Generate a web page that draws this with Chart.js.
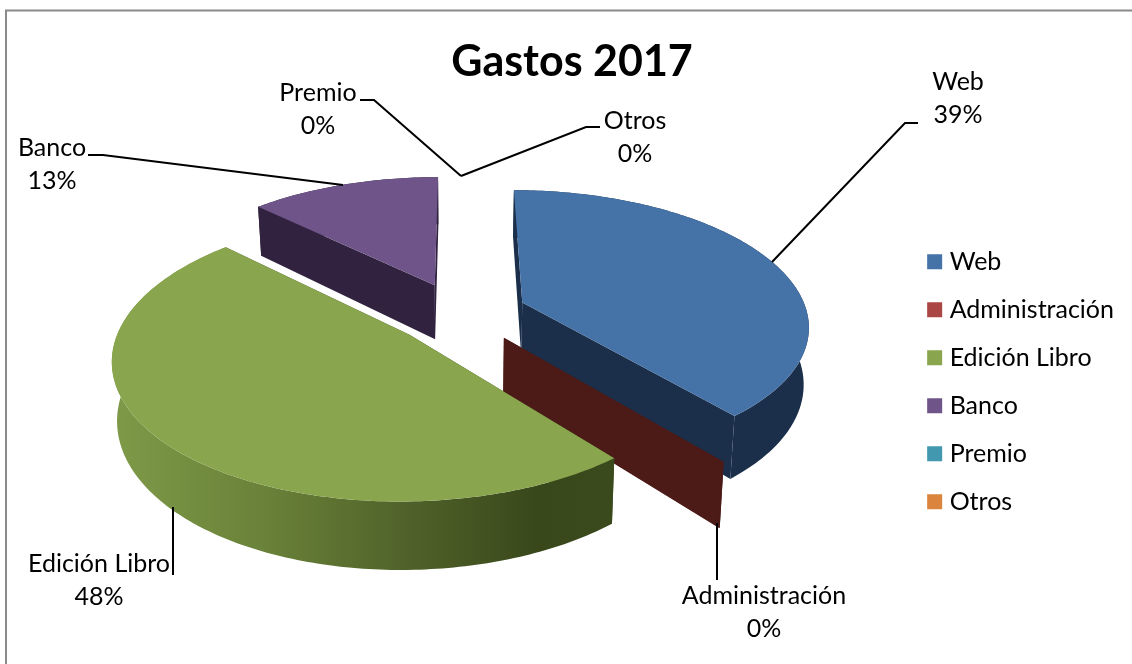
<!DOCTYPE html>
<html lang="es">
<head>
<meta charset="utf-8">
<title>Gastos 2017</title>
<script src="https://cdn.jsdelivr.net/npm/chart.js@4/dist/chart.umd.min.js"></script>
<style>
    html, body { margin: 0; padding: 0; background: #ffffff; }
    canvas { display: block; }
</style>
</head>
<body>
<canvas id="gastosChart" width="1132" height="664"></canvas>
<script>
const categories = ["Web", "Administración", "Edición Libro", "Banco", "Premio", "Otros"];
const gastos = [39, 0.05, 48.2, 12.75, 0, 0];
const topColors = ["#4572A7", "#AA4643", "#89A54E", "#6F5489", "#4198AF", "#DB843D"];
const cutColors = ["#1B2F4A", "#4C1B17", "#3A4A1C", "#31233F", "#1C4450", "#6A3A14"];

// how the flat pie is tilted on the page
const view = { cx: 460, cy: 313, tiltY: 133 / 285, perspective: 0.157, depth: 56, shrink: 0.985 };
const drawOrder = [3, 4, 5, 0, 1, 2];

const labelBoxes = [
    { x: 958, y: 82, line: [[918, 123], [905, 123], [772, 262]] },
    { x: 764, y: 596, line: [[717, 523], [717, 580]] },
    { x: 99, y: 564, line: [[173, 507], [173, 575]] },
    { x: 52, y: 148, line: [[88, 155], [103, 155], [343, 185]] },
    { x: 318, y: 93, line: [[360, 100], [374, 100], [461, 176]] },
    { x: 635, y: 121, line: [[600, 127], [586, 127], [461, 176]] }
];

function project(planeX, planeY, radius, isBottom) {
    const w = 1 / (1 - view.perspective * planeY);
    const shrink = isBottom ? view.shrink : 1;
    return {
        x: view.cx + planeX * radius * w * shrink,
        y: view.cy + planeY * radius * view.tiltY * w + (isBottom ? view.depth * w : 0)
    };
}

function tracePath(ctx, points) {
    ctx.beginPath();
    points.forEach((point, index) => {
        if (index === 0) {
            ctx.moveTo(point.x, point.y);
        } else {
            ctx.lineTo(point.x, point.y);
        }
    });
    ctx.closePath();
}

function wallFill(ctx, index) {
    if (index !== 2) {
        return cutColors[index];
    }
    const gradient = ctx.createLinearGradient(113, 0, 610, 0);
    gradient.addColorStop(0, "#7E9A48");
    gradient.addColorStop(0.3, "#6A8239");
    gradient.addColorStop(0.6, "#4F6129");
    gradient.addColorStop(0.85, "#39481B");
    gradient.addColorStop(1, "#3A4A1C");
    return gradient;
}

function drawSlice(ctx, arc, index) {
    if (arc.circumference <= 0) {
        return;
    }
    const radius = arc.outerRadius;
    const middle = (arc.startAngle + arc.endAngle) / 2;
    const apexX = Math.cos(middle) * arc.options.offset / radius;
    const apexY = Math.sin(middle) * arc.options.offset / radius;
    const steps = Math.max(2, Math.ceil((arc.endAngle - arc.startAngle) * 60));

    const rim = [];
    for (let step = 0; step <= steps; step++) {
        const angle = arc.startAngle + (arc.endAngle - arc.startAngle) * step / steps;
        rim.push([apexX + Math.cos(angle), apexY + Math.sin(angle)]);
    }
    const topRim = rim.map((p) => project(p[0], p[1], radius, false));
    const lowRim = rim.map((p) => project(p[0], p[1], radius, true));
    const topApex = project(apexX, apexY, radius, false);
    const lowApex = project(apexX, apexY, radius, true);

    ctx.fillStyle = cutColors[index];
    tracePath(ctx, [topApex, topRim[0], lowRim[0], lowApex]);
    ctx.fill();
    tracePath(ctx, [topApex, topRim[steps], lowRim[steps], lowApex]);
    ctx.fill();

    ctx.fillStyle = wallFill(ctx, index);
    tracePath(ctx, topRim.concat(lowRim.slice().reverse()));
    ctx.fill();

    // a slice this thin only shows its cut face
    if (arc.circumference < 0.01) {
        return;
    }
    ctx.fillStyle = arc.options.backgroundColor;
    tracePath(ctx, [topApex].concat(topRim));
    ctx.fill();
}

const tiltedPie = {
    id: "tiltedPie",
    beforeDraw(chart) {
        const ctx = chart.ctx;
        ctx.save();
        ctx.strokeStyle = "#8A8A8A";
        ctx.lineWidth = 2;
        ctx.beginPath();
        ctx.moveTo(1132, 10.5);
        ctx.lineTo(6, 10.5);
        ctx.lineTo(6, 664);
        ctx.stroke();
        ctx.restore();
    },
    beforeDatasetDraw(chart, args) {
        const ctx = chart.ctx;
        const arcs = args.meta.data;
        ctx.save();
        drawOrder.forEach((index) => drawSlice(ctx, arcs[index], index));
        ctx.restore();
        return false;
    },
    afterDatasetsDraw(chart) {
        const ctx = chart.ctx;
        const total = gastos.reduce((sum, value) => sum + value, 0);
        ctx.save();
        ctx.strokeStyle = "#000000";
        ctx.lineWidth = 2;
        ctx.fillStyle = "#000000";
        ctx.font = "25px Lato";
        ctx.textAlign = "center";
        ctx.textBaseline = "middle";
        labelBoxes.forEach((box, index) => {
            ctx.beginPath();
            box.line.forEach((point, pointIndex) => {
                if (pointIndex === 0) {
                    ctx.moveTo(point[0], point[1]);
                } else {
                    ctx.lineTo(point[0], point[1]);
                }
            });
            ctx.stroke();
            ctx.fillText(categories[index], box.x, box.y);
            ctx.fillText(`${Math.round(gastos[index] / total * 100)}%`, box.x, box.y + 33);
        });
        ctx.restore();
    }
};

new Chart(document.getElementById("gastosChart"), {
    type: "pie",
    data: {
        labels: categories,
        datasets: [{
            data: gastos,
            backgroundColor: topColors,
            borderWidth: 0,
            offset: 67
        }]
    },
    options: {
        responsive: false,
        animation: false,
        radius: 285,
        layout: {
            padding: { left: 20, top: 14, right: 8 }
        },
        plugins: {
            title: {
                display: true,
                text: "Gastos 2017",
                color: "#000000",
                font: { family: "Lato", size: 43, weight: "bold" },
                padding: { top: 22, bottom: 12 }
            },
            legend: {
                position: "right",
                fullSize: false,
                labels: {
                    usePointStyle: true,
                    pointStyle: "rect",
                    boxWidth: 5,
                    boxHeight: 15,
                    color: "#000000",
                    font: { family: "Lato", size: 25 },
                    padding: 23
                }
            },
            tooltip: {
                enabled: false
            }
        }
    },
    plugins: [tiltedPie]
});
</script>
</body>
</html>
